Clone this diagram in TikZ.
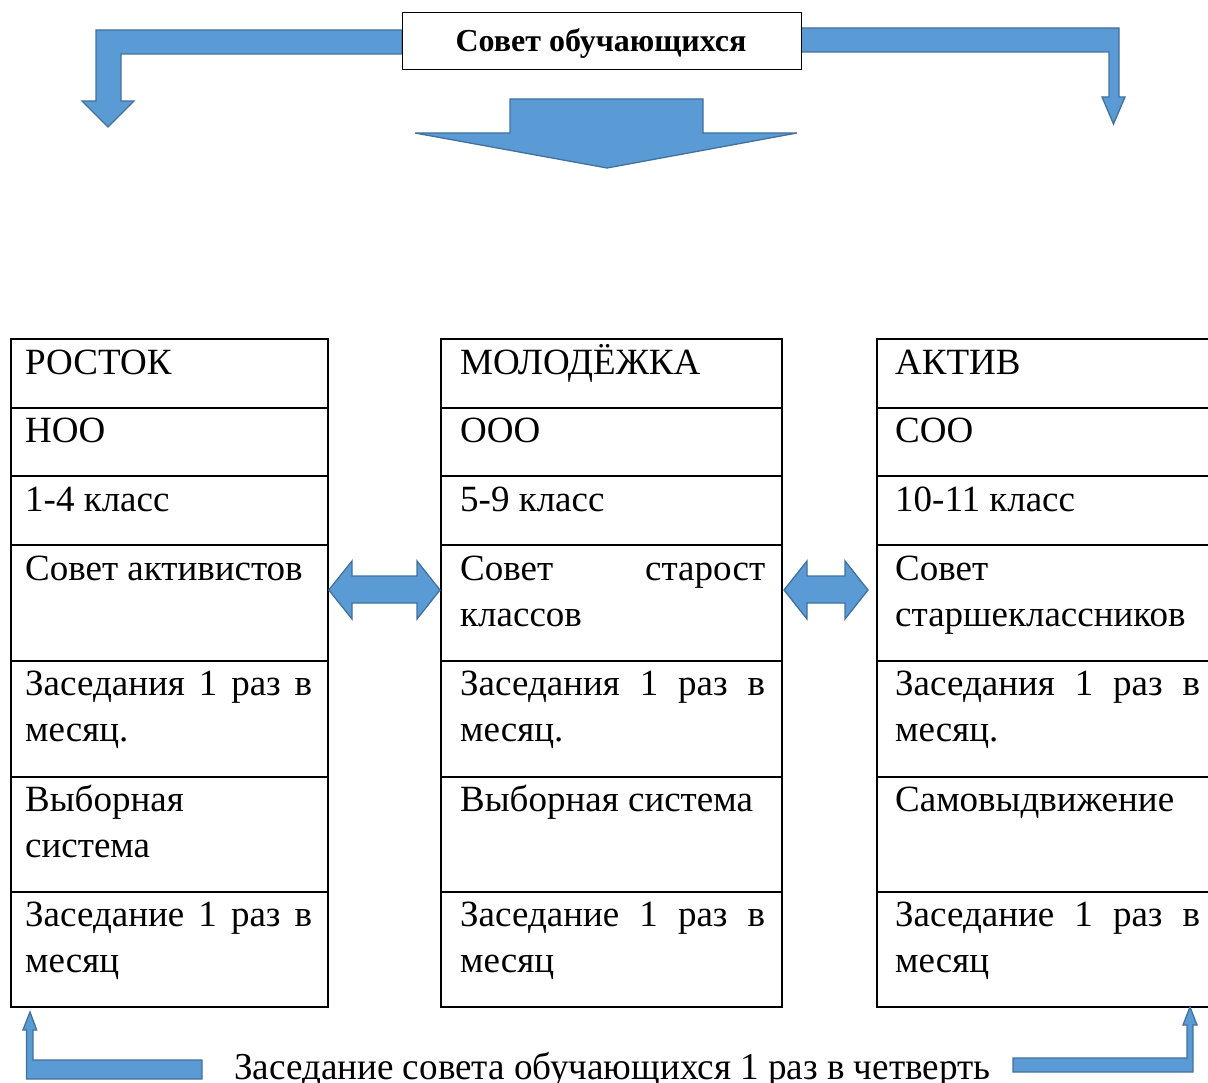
\documentclass[tikz,border=0pt]{standalone}
\usepackage{fontspec}
\setmainfont{Liberation Serif}
\usepackage{graphicx}
\definecolor{arrfill}{HTML}{5B9BD5}
\definecolor{arrdraw}{HTML}{41719C}
\begin{document}
\begin{tikzpicture}[x=1pt,y=-1pt,
  blockarrow/.style={fill=arrfill,draw=arrdraw,line width=1.3pt,line join=miter},
  cell/.style={draw=black,line width=1.8pt,rectangle,inner sep=0pt,anchor=north west},
  celltext/.style={anchor=base west,inner sep=0pt,font=\fontsize{37}{46.5}\selectfont},
  topbox/.style={draw=black,line width=1.2pt,fill=white,rectangle,inner sep=0pt,minimum width=399pt,minimum height=57pt,anchor=north west}
]
\useasboundingbox (0,0) rectangle (1208,1083);
% block arrows from the top box
\draw[blockarrow] (402,30) -- (96,30) -- (96,101) -- (82,101) -- (108,127) -- (134,101) -- (121,101) -- (121,54) -- (402,54) -- cycle;
\draw[blockarrow] (801,28) -- (1119,28) -- (1119,97) -- (1125,97) -- (1113.5,124) -- (1102,97) -- (1109,97) -- (1109,52) -- (801,52) -- cycle;
\draw[blockarrow] (510,99) -- (703,99) -- (703,133) -- (797,133) -- (607,168) -- (415,133) -- (510,133) -- cycle;
\node[topbox] (council) at (402,12) {};
\node[anchor=base,inner sep=0pt,font=\fontsize{32}{34}\selectfont\bfseries] (counciltext) at (601,52) {Совет обучающихся};
% table cells
\foreach \c/\x/\w in {1/10/317, 2/440/341, 3/876/340}{
  \foreach \r/\y/\h in {1/338/69, 2/407/68, 3/475/69, 4/544/116, 5/660/116, 6/776/115, 7/891/115}{
    \node[cell,minimum width=\w pt,minimum height=\h pt] (c\c r\r) at (\x,\y) {};
  }
}
% column 1 texts
\node[celltext] (t1r1) at (25,374) {РОСТОК};
\node[celltext] (t1r2) at (25,442) {НОО};
\node[celltext] (t1r3) at (25,511) {1-4 класс};
\node[celltext] (t1r4) at (25,580) {Совет активистов};
\node[celltext] (t1r5) at (25,695) {\parbox[t]{287pt}{\setlength{\baselineskip}{46.5pt}Заседания\hfill 1\hfill раз\hfill в\\месяц.}};
\node[celltext] (t1r6) at (25,811) {\parbox[t]{287pt}{\setlength{\baselineskip}{46.5pt}Выборная\\система}};
\node[celltext] (t1r7) at (25,926) {\parbox[t]{287pt}{\setlength{\baselineskip}{46.5pt}Заседание\hfill 1\hfill раз\hfill в\\месяц}};
% column 2 texts
\node[celltext] (t2r1) at (460,374) {МОЛОДЁЖКА};
\node[celltext] (t2r2) at (460,442) {ООО};
\node[celltext] (t2r3) at (460,511) {5-9 класс};
\node[celltext] (t2r4) at (460,580) {\parbox[t]{305pt}{\setlength{\baselineskip}{46.5pt}Совет\hfill старост\\классов}};
\node[celltext] (t2r5) at (460,695) {\parbox[t]{305pt}{\setlength{\baselineskip}{46.5pt}Заседания\hfill 1\hfill раз\hfill в\\месяц.}};
\node[celltext] (t2r6) at (460,811) {Выборная система};
\node[celltext] (t2r7) at (460,926) {\parbox[t]{305pt}{\setlength{\baselineskip}{46.5pt}Заседание\hfill 1\hfill раз\hfill в\\месяц}};
% column 3 texts
\node[celltext] (t3r1) at (895,374) {АКТИВ};
\node[celltext] (t3r2) at (895,442) {СОО};
\node[celltext] (t3r3) at (895,511) {10-11 класс};
\node[celltext] (t3r4) at (895,580) {\parbox[t]{305pt}{\setlength{\baselineskip}{46.5pt}Совет\\старшеклассников}};
\node[celltext] (t3r5) at (895,695) {\parbox[t]{305pt}{\setlength{\baselineskip}{46.5pt}Заседания\hfill 1\hfill раз\hfill в\\месяц.}};
\node[celltext] (t3r6) at (895,811) {Самовыдвижение};
\node[celltext] (t3r7) at (895,926) {\parbox[t]{305pt}{\setlength{\baselineskip}{46.5pt}Заседание\hfill 1\hfill раз\hfill в\\месяц}};
% double arrows between columns
\draw[blockarrow] (c1r4.east |- 0,590) -- (352,561) -- (352,576) -- (417,576) -- (417,561) -- (c2r4.west |- 0,590) -- (417,619) -- (417,603) -- (352,603) -- (352,619) -- cycle;
\draw[blockarrow] (784,590) -- (807,561) -- (807,576) -- (845,576) -- (845,561) -- (868,590) -- (845,619) -- (845,603) -- (807,603) -- (807,619) -- cycle;
% bottom arrows
\draw[blockarrow] (30,1012) -- (36.7,1030) -- (33,1030) -- (33,1060) -- (202,1060) -- (202,1079) -- (26.5,1079) -- (26.5,1030) -- (23,1030) -- cycle;
\draw[blockarrow] (1013,1058) -- (1187,1058) -- (1187,1025) -- (1183,1025) -- (1190,1007) -- (1197,1025) -- (1193,1025) -- (1193,1072) -- (1013,1072) -- cycle;
\node[anchor=base west,inner sep=0pt] (quarter) at (234,1079) {\resizebox{756pt}{\height}{\fontsize{38}{40}\selectfont Заседание совета обучающихся 1 раз в четверть}};
\end{tikzpicture}
\end{document}
